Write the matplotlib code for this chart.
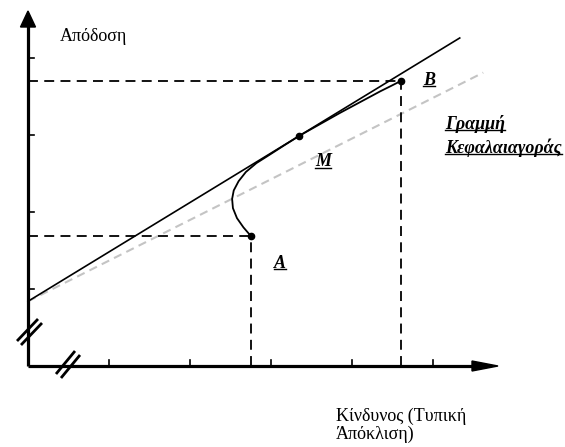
import matplotlib
matplotlib.use("Agg")
import matplotlib.pyplot as plt
from matplotlib.patches import Polygon
from matplotlib.lines import Line2D

# ---------------- data (in tick units) ----------------
point_A = (2.75, 1.69)
point_B = (4.60, 3.70)
point_M = (3.35, 2.99)

# capital market line (solid) and grey dashed line
cml_x = [0.0, 5.33]
cml_y = [0.84, 4.26]
grey_x = [0.0, 5.62]
grey_y = [0.84, 3.81]

# efficient frontier curve from A through M to B
curve_x = [2.75, 2.66, 2.58, 2.53, 2.52, 2.54, 2.60, 2.69, 2.82, 2.97, 3.15,
           3.35, 3.60, 3.85, 4.10, 4.35, 4.48, 4.60]
curve_y = [1.69, 1.80, 1.92, 2.05, 2.17, 2.28, 2.40, 2.52, 2.635, 2.735, 2.857,
           2.99, 3.138, 3.286, 3.427, 3.568, 3.636, 3.70]

x_ticks = [1, 2, 3, 4, 5]
y_ticks = [1, 2, 3, 4]

y_label = "Απόδοση"
x_label = "Κίνδυνος (Τυπική\nΆπόκλιση)"

# ---------------- figure ----------------
W, H, DPI = 565, 447, 100
fig = plt.figure(figsize=(W / DPI, H / DPI), dpi=DPI)
ax = fig.add_axes([0, 0, 1, 1])
ox, oy = 28, 366      # origin in pixels
ux, uy = 81, 77       # pixels per tick unit
ax.set_xlim(-ox / ux, (W - ox) / ux)
ax.set_ylim((oy - H) / uy, oy / uy)
ax.axis("off")

px = 1.0 / ux   # one pixel in x data units
py = 1.0 / uy   # one pixel in y data units

x_end = (498 - ox) / ux
y_end = (oy - 11) / uy

# axes lines
ax.plot([0, x_end - 20 * px], [0, 0], color="black", lw=2.3, solid_capstyle="butt", zorder=5)
ax.plot([0, 0], [0, y_end - 14 * py], color="black", lw=2.3, solid_capstyle="butt", zorder=5)
# arrow heads
ax.add_patch(Polygon([[x_end, 0], [x_end - 26 * px, 5 * py], [x_end - 26 * px, -5 * py]],
                     closed=True, color="black", zorder=6))
ax.add_patch(Polygon([[0, y_end], [-7.5 * px, y_end - 16 * py], [7.5 * px, y_end - 16 * py]],
                     closed=True, color="black", zorder=6))

# ticks
for t in x_ticks:
    ax.plot([t, t], [0, 6 * py], color="black", lw=1.2, zorder=5)
for t in y_ticks:
    ax.plot([0, 6 * px], [t, t], color="black", lw=1.2, zorder=5)

# break marks (pixel offsets relative to image)
marks_y = [((-11, 341), (10, 319)), ((-7, 345), (14, 323))]
for (x0, y0), (x1, y1) in marks_y:
    ax.plot([x0 * px, x1 * px], [(oy - y0) * py, (oy - y1) * py], color="black", lw=2.0,
            solid_capstyle="butt", zorder=7)
marks_x = [((28, 374), (47, 351)), ((33, 378), (52, 355))]
for (x0, y0), (x1, y1) in marks_x:
    ax.plot([x0 * px, x1 * px], [(oy - y0) * py, (oy - y1) * py], color="black", lw=2.0,
            solid_capstyle="butt", zorder=7)

# dashed guides
dash = (0, (5.5, 3.5))
for (x, y) in (point_A, point_B):
    ax.plot([0, x], [y, y], color="black", lw=1.3, linestyle=dash, zorder=3)
    ax.plot([x, x], [0, y], color="black", lw=1.3, linestyle=dash, zorder=3)

# grey dashed line
ax.plot(grey_x, grey_y, color="#c4c4c4", lw=1.5, linestyle=(0, (4, 2.6)), zorder=2)
# capital market line
ax.plot(cml_x, cml_y, color="black", lw=1.2, zorder=4)
# frontier curve
ax.plot(curve_x, curve_y, color="black", lw=1.3, zorder=4, solid_joinstyle="round")
# points
for (x, y) in (point_A, point_B, point_M):
    ax.plot(x, y, "o", color="black", ms=4.5, zorder=6)

serif = ["Liberation Serif", "DejaVu Serif"]
ax.text((60 - ox) * px, (oy - 37) * py, y_label, fontsize=13, family=serif,
        ha="left", va="center")
ax.text((336 - ox) * px, (oy - 408) * py, x_label, fontsize=13, family=serif,
        ha="left", va="top", linespacing=1.0)

labels = [("B", 423, 81), ("M", 315, 162), ("A", 274, 263),
          ("Γραμμή", 445, 124), ("Κεφαλαιαγοράς", 445, 148)]
texts = []
for s, xx, yy in labels:
    t = ax.text((xx - ox) * px, (oy - yy) * py, s, fontsize=13, family=serif,
                fontweight="bold", fontstyle="italic", ha="left", va="center")
    texts.append(t)

fig.canvas.draw()
r = fig.canvas.get_renderer()
for t in texts:
    bb = t.get_window_extent(r)
    yline = bb.y0 + 3
    fig.add_artist(Line2D([bb.x0 / W, bb.x1 / W], [yline / H, yline / H],
                          color="black", lw=1.0, transform=fig.transFigure))

fig.savefig("out.png", dpi=DPI)
